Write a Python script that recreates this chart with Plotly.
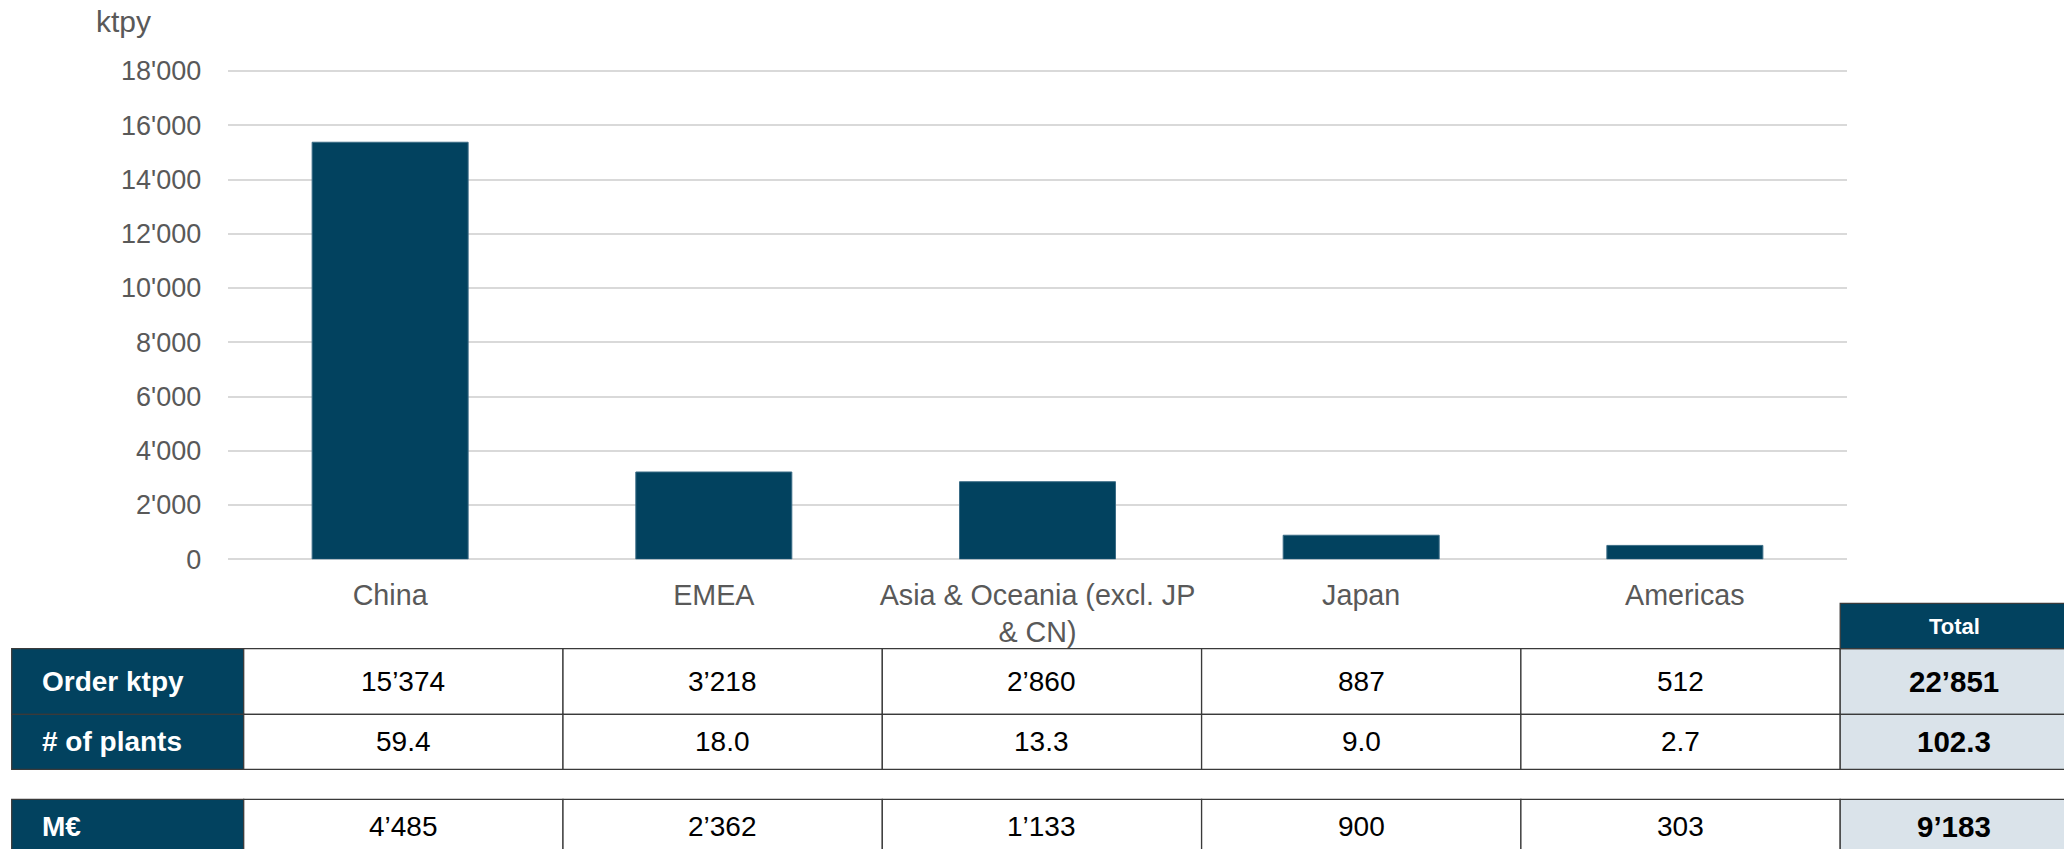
import plotly.graph_objects as go

# ---------------- data ----------------
categories = ["China", "EMEA", "Asia & Oceania (excl. JP & CN)", "Japan", "Americas"]
category_ticktext = ["China", "EMEA", "Asia & Oceania (excl. JP<br>& CN)", "Japan", "Americas"]
order_ktpy = [15374, 3218, 2860, 887, 512]
plants = [59.4, 18.0, 13.3, 9.0, 2.7]
meur = [4485, 2362, 1133, 900, 303]
row_labels = ["Order ktpy", "# of plants", "M€"]
total_header = "Total"
totals = [22851, 102.3, 9183]
y_tickvals = [0, 2000, 4000, 6000, 8000, 10000, 12000, 14000, 16000, 18000]
y_unit = "ktpy"

# ---------------- style / layout ----------------
W, H = 2064, 849
FONT = "Liberation Sans, Arial, sans-serif"
DARK = "#02425F"
LIGHT = "#DAE3EA"
GRID = "#D9D9D9"
GREY_TXT = "#595959"
BORDER = "#3A3A3A"

PLOT_L, PLOT_R = 228.3, 1846.7
Y0_PX, YTOP_PX = 559.3, 71.0
Y_MAX = 18000
Y_PAD = 60  # small headroom so the top gridline is drawn
PX_PER_UNIT = (Y0_PX - YTOP_PX) / Y_MAX
DOM_TOP_PX = YTOP_PX - Y_PAD * PX_PER_UNIT

# table geometry (pixels)
T_LEFT = 11.7
C0 = 243.7        # left edge of first data column
CW = 319.3        # data column width
TOT_W = 228.0     # total column width
ROW_TOP = [648.7, 714.3, 799.3]
ROW_BOT = [714.3, 769.3, 854.3]
HDR_TOP = 603.3


def fmt_int(v):
    return f"{v:,.0f}".replace(",", "\u2019")


def fmt_dec(v):
    return f"{v:.1f}"


rows_values = [
    [fmt_int(v) for v in order_ktpy],
    [fmt_dec(v) for v in plants],
    [fmt_int(v) for v in meur],
]
rows_totals = [fmt_int(totals[0]), fmt_dec(totals[1]), fmt_int(totals[2])]

fig = go.Figure()
fig.add_trace(go.Bar(
    x=categories, y=order_ktpy,
    marker=dict(color=DARK, line=dict(color="#3B6C86", width=1)),
    hoverinfo="skip", showlegend=False,
))
# invisible trace to hold the table axes
fig.add_trace(go.Scatter(x=[None], y=[None], xaxis="x2", yaxis="y2",
                         mode="markers", showlegend=False, hoverinfo="skip"))

# column-unit x axis for the table: data column j spans [j, j+1]
x2_lo = (0 - C0) / CW
x2_hi = (W - C0) / CW
lab_lo = (T_LEFT - C0) / CW
tot_lo = len(categories)
tot_hi = tot_lo + TOT_W / CW

shapes = []
annotations = []


def rect(x0, x1, y0, y1, fill, lw=1.3, lc=BORDER):
    shapes.append(dict(type="rect", xref="x2", yref="y2", x0=x0, x1=x1, y0=y0, y1=y1,
                       fillcolor=fill, line=dict(color=lc, width=lw), layer="above"))


for r, lab in enumerate(row_labels):
    y0, y1 = ROW_TOP[r], ROW_BOT[r]
    rect(lab_lo, 0, y0, y1, DARK)
    for j in range(len(categories)):
        rect(j, j + 1, y0, y1, "white")
        annotations.append(dict(xref="x2", yref="y2", x=j + 0.5, y=(y0 + y1) / 2,
                                text=rows_values[r][j], showarrow=False,
                                xanchor="center", yanchor="middle",
                                font=dict(family=FONT, size=28, color="black")))
    rect(tot_lo, tot_hi, y0, y1, LIGHT)
    annotations.append(dict(xref="x2", yref="y2", x=(tot_lo + tot_hi) / 2, y=(y0 + y1) / 2,
                            text="<b>" + rows_totals[r] + "</b>", showarrow=False,
                            xanchor="center", yanchor="middle",
                            font=dict(family=FONT, size=29.5, color="black")))
    annotations.append(dict(xref="x2", yref="y2", x=lab_lo + 28 / CW, y=(y0 + y1) / 2,
                            text="<b>" + lab + "</b>", showarrow=False,
                            xanchor="left", yanchor="middle",
                            font=dict(family=FONT, size=28, color="white")))

rect(tot_lo, tot_hi, HDR_TOP, ROW_TOP[0], DARK)
annotations.append(dict(xref="x2", yref="y2", x=(tot_lo + tot_hi) / 2, y=(HDR_TOP + ROW_TOP[0]) / 2,
                        text="<b>" + total_header + "</b>", showarrow=False,
                        xanchor="center", yanchor="middle",
                        font=dict(family=FONT, size=22, color="white")))

# unit label
annotations.append(dict(xref="paper", yref="paper", x=123 / W, y=1 - 22 / H,
                        text=y_unit, showarrow=False, xanchor="center", yanchor="middle",
                        font=dict(family=FONT, size=30, color=GREY_TXT)))

fig.update_layout(
    width=W, height=H,
    margin=dict(l=0, r=0, t=0, b=0, pad=0, autoexpand=False),
    paper_bgcolor="white", plot_bgcolor="rgba(0,0,0,0)",
    separators=".'",
    bargap=1 - 156 / ((PLOT_R - PLOT_L) / 5),
    showlegend=False,
    xaxis=dict(domain=[PLOT_L / W, PLOT_R / W], anchor="y", automargin=False,
               tickmode="array", tickvals=categories, ticktext=category_ticktext,
               tickfont=dict(family=FONT, size=28.7, color=GREY_TXT),
               showgrid=False, zeroline=False, showline=False, ticks="",
               ticklabelstandoff=16, fixedrange=True),
    yaxis=dict(domain=[1 - Y0_PX / H, 1 - DOM_TOP_PX / H], anchor="x", automargin=False,
               range=[0, Y_MAX + Y_PAD], tickmode="array", tickvals=y_tickvals,
               tickformat=",d",
               tickfont=dict(family=FONT, size=27, color=GREY_TXT),
               showgrid=True, gridcolor=GRID, gridwidth=2,
               zeroline=True, zerolinecolor=GRID, zerolinewidth=2,
               showline=False, ticks="", ticklabelstandoff=26, fixedrange=True),
    xaxis2=dict(domain=[0, 1], anchor="y2", range=[x2_lo, x2_hi], visible=False,
                automargin=False, fixedrange=True),
    yaxis2=dict(domain=[0, 1], anchor="x2", range=[H, 0], visible=False,
                automargin=False, fixedrange=True),
    shapes=shapes,
    annotations=annotations,
)

fig.write_html("out.html")
